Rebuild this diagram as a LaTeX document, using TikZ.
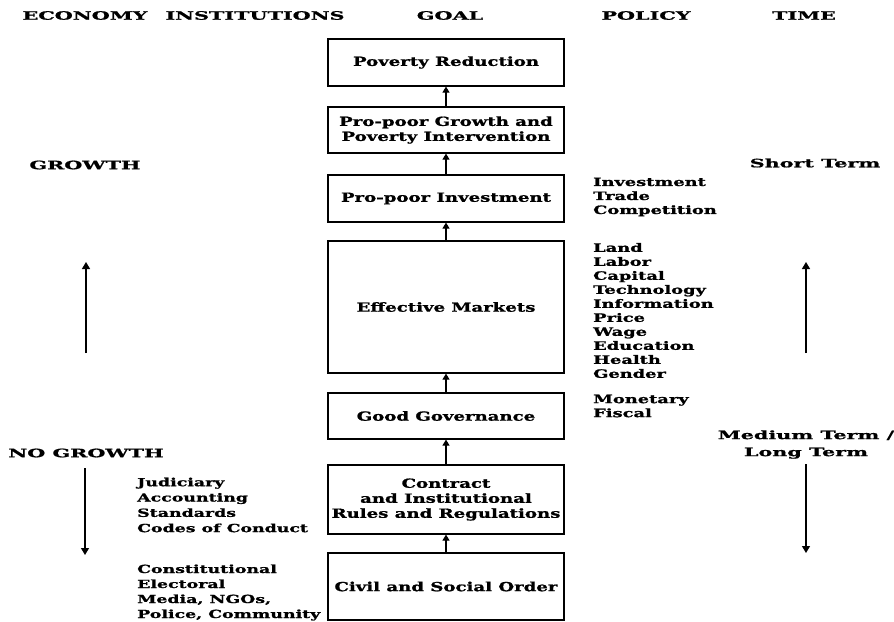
\documentclass[tikz,border=0pt]{standalone}
\usepackage{fontspec}
\setmainfont{DejaVu Serif}
\newfontfamily\hfont[FakeStretch=1.8,FakeBold=1.2]{DejaVu Serif}
\newfontfamily\bfont[FakeStretch=1.45,FakeBold=1.2]{DejaVu Serif}
\newfontfamily\pfont[FakeStretch=1.55,FakeBold=1.2]{DejaVu Serif}
\usetikzlibrary{arrows.meta}
\begin{document}
\begin{tikzpicture}[x=1pt,y=-1pt,
  box/.style={draw, line width=1.2pt, minimum width=236pt, inner sep=0pt,
    font=\bfont\bfseries\fontsize{12.5}{15}\selectfont, align=center},
  up/.style={-{Triangle[length=6pt,width=7pt]}, line width=1.2pt},
  lbl/.style={font=\pfont\bfseries\fontsize{11.5}{14}\selectfont, align=left, anchor=west, inner sep=0pt},
  hdr/.style={font=\hfont\bfseries\fontsize{11.5}{13}\selectfont, inner sep=0pt},
  side/.style={font=\hfont\bfseries\fontsize{11.5}{17}\selectfont, inner sep=0pt, align=center},
  long/.style={-{Triangle[length=7pt,width=8pt]}, line width=1.2pt}]
\useasboundingbox (0,0) rectangle (894,621);
% headers
\node[hdr] (h1) at (85,15.5) {ECONOMY};
\node[hdr] (h2) at (255,15.5) {INSTITUTIONS};
\node[hdr] (h3) at (450,15.5) {GOAL};
\node[hdr] (h4) at (646,15.5) {POLICY};
\node[hdr] (h5) at (804,15.5) {TIME};
% boxes
\node[box, minimum height=47pt] (pr) at (446,62.5) {Poverty Reduction};
\node[box, minimum height=46pt] (pg) at (446,130) {Pro-poor Growth and\\Poverty Intervention};
\node[box, minimum height=47pt] (pi) at (446,198.5) {Pro-poor Investment};
\node[box, minimum height=132pt] (em) at (446,307) {Effective Markets};
\node[box, minimum height=46pt] (gg) at (446,416) {Good Governance};
\node[box, minimum height=69pt] (cr) at (446,499.5) {Contract\\and Institutional\\Rules and Regulations};
\node[box, minimum height=67pt] (cs) at (446,586.5) {Civil and Social Order};
\draw[up] (cs) -- (cr);
\draw[up] (cr) -- (gg);
\draw[up] (gg) -- (em);
\draw[up] (em) -- (pi);
\draw[up] (pi) -- (pg);
\draw[up] (pg) -- (pr);
% policy lists
\node[lbl] (p1) at (593,197) {Investment\\Trade\\Competition};
\node[lbl] (p2) at (593,310.5) {Land\\Labor\\Capital\\Technology\\Information\\Price\\Wage\\Education\\Health\\Gender};
\node[lbl] (p3) at (593,406) {Monetary\\Fiscal};
% institutions lists
\node[lbl, font=\pfont\bfseries\fontsize{11.2}{15.3}\selectfont] (i1) at (137,505) {Judiciary\\Accounting\\Standards\\Codes of Conduct};
\node[lbl, font=\pfont\bfseries\fontsize{11.2}{15}\selectfont] (i2) at (137,592.5) {Constitutional\\Electoral\\Media, NGOs,\\Police, Community};
% side labels
\node[side] (gr) at (85,165) {GROWTH};
\node[side] (ng) at (86,453) {NO GROWTH};
\node[side] (st) at (815,163) {Short Term};
\node[side] (mt) at (806,444.5) {Medium Term /\\Long Term};
% side arrows
\coordinate (la1) at (86,353); \coordinate (la2) at (86,262);
\coordinate (ra1) at (806,353); \coordinate (ra2) at (806,262);
\coordinate (lb1) at (85,468); \coordinate (lb2) at (85,555);
\coordinate (rb1) at (806,464); \coordinate (rb2) at (806,553);
\draw[long] (la1) -- (la2);
\draw[long] (ra1) -- (ra2);
\draw[long] (lb1) -- (lb2);
\draw[long] (rb1) -- (rb2);
\end{tikzpicture}
\end{document}
